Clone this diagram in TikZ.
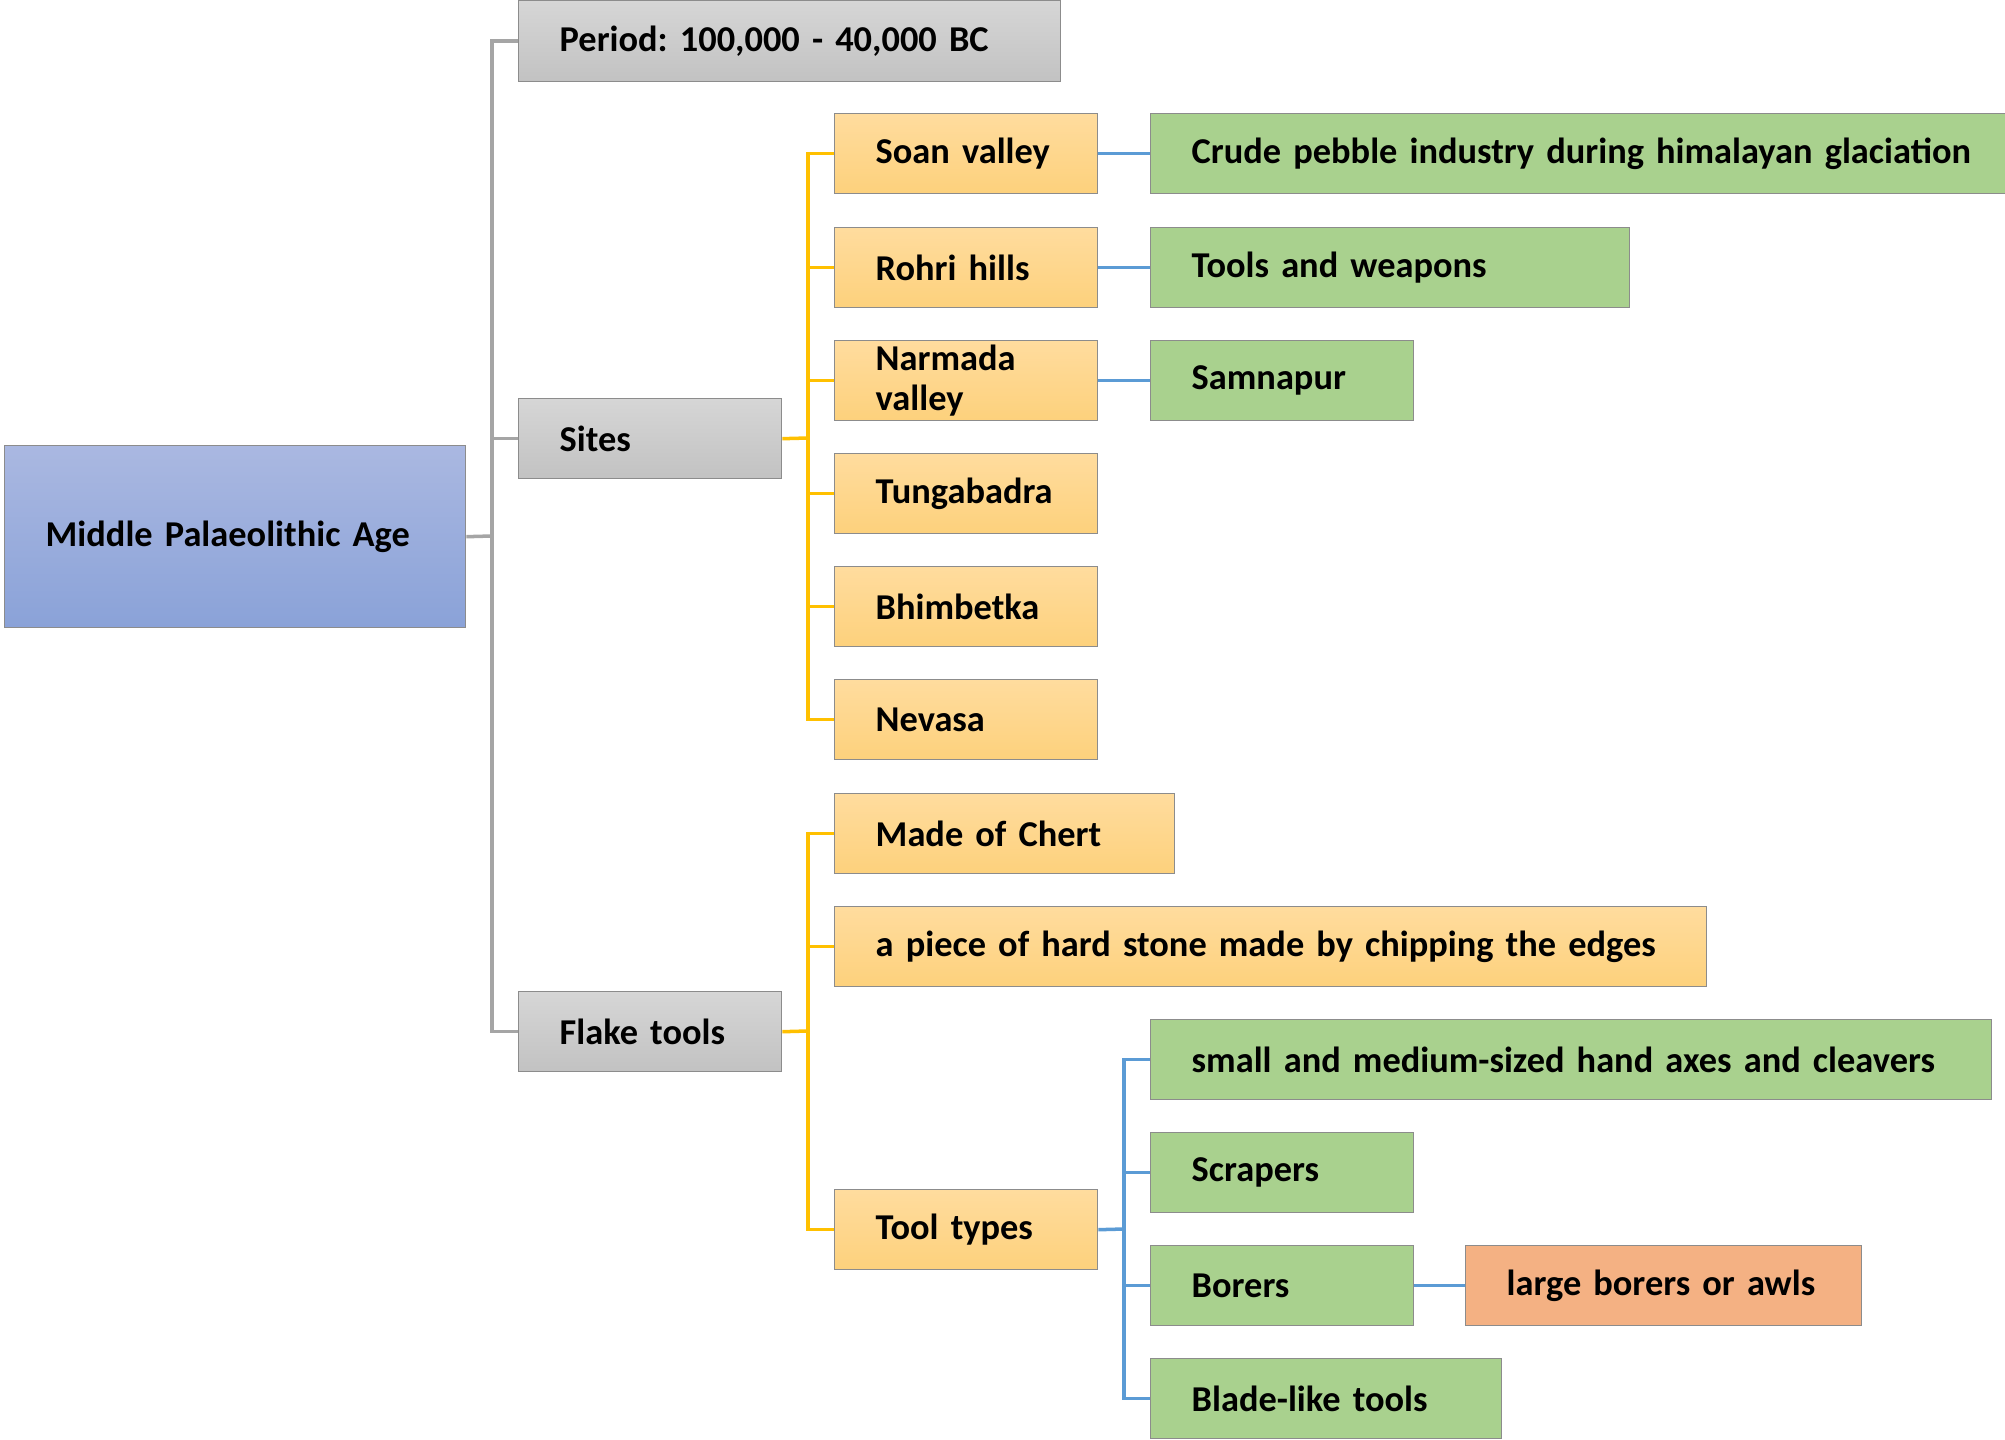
\documentclass[tikz,border=0pt]{standalone}
\usepackage{fontspec}
\setmainfont{Carlito}
\hyphenpenalty=10000
\exhyphenpenalty=10000
\frenchspacing
\definecolor{rootT}{HTML}{AAB8E1}
\definecolor{rootB}{HTML}{8AA2D8}
\definecolor{greyT}{HTML}{D6D6D6}
\definecolor{greyB}{HTML}{C2C2C2}
\definecolor{orT}{HTML}{FFDC9E}
\definecolor{orB}{HTML}{FDD17C}
\definecolor{grn}{HTML}{A9D18E}
\definecolor{salmon}{HTML}{F4B183}
\definecolor{edge}{HTML}{8C8C8C}
\definecolor{lnGrey}{HTML}{A5A5A5}
\definecolor{lnOrange}{HTML}{FFC000}
\definecolor{lnBlue}{HTML}{5B9BD5}
\begin{document}
\begin{tikzpicture}[x=0.1mm,y=-0.1mm,
  box/.style={rectangle,anchor=north west,minimum height=8mm,inner xsep=4.1mm,inner ysep=0pt,
    align=left,draw=edge,line width=0.4pt,
    font=\fontsize{10.35}{11.4}\selectfont\bfseries},
  w263/.style={minimum width=26.3mm,text width=18.1mm},
  rootbox/.style={box,top color=rootT,bottom color=rootB},
  greybox/.style={box,top color=greyT,bottom color=greyB},
  orbox/.style={box,top color=orT,bottom color=orB},
  grbox/.style={box,fill=grn},
  salbox/.style={box,fill=salmon},
  gline/.style={draw=lnGrey,line width=1pt},
  oline/.style={draw=lnOrange,line width=1pt},
  bline/.style={draw=lnBlue,line width=1pt}]
\clip (0,0) rectangle (2005,1440);

% root
\node[rootbox,minimum height=18.2mm,minimum width=46.1mm,text width=37.9mm] (root) at (4,445) {Middle Palaeolithic Age};

% first level
\node[greybox,minimum height=8.1mm,minimum width=54.2mm,text width=46mm] (period) at (518,0) {Period: 100,000 - 40,000 BC};
\node[greybox,w263] (sites) at (518,398) {Sites};
\node[greybox,w263] (flake) at (518,991) {Flake tools};

% sites
\node[orbox,w263] (soan) at (834,113) {Soan valley};
\node[orbox,w263] (rohri) at (834,227) {Rohri hills};
\node[orbox,w263] (narmada) at (834,340) {Narmada\\valley};
\node[orbox,w263] (tunga) at (834,453) {Tungabadra};
\node[orbox,w263] (bhim) at (834,566) {Bhimbetka};
\node[orbox,w263] (nevasa) at (834,679) {Nevasa};

\node[grbox,minimum width=88mm,text width=79.8mm] (crude) at (1150,113) {Crude pebble industry during himalayan glaciation};
\node[grbox,minimum width=47.9mm,text width=39.7mm] (tools) at (1150,227) {Tools and weapons};
\node[grbox,w263] (samna) at (1150,340) {Samnapur};

% flake tools
\node[orbox,minimum width=34mm,text width=25.8mm] (chert) at (834,793) {Made of Chert};
\node[orbox,minimum width=87.2mm,text width=79mm] (piece) at (834,906) {a piece of hard stone made by chipping the edges};
\node[orbox,w263] (ttypes) at (834,1189) {Tool types};

\node[grbox,minimum width=84.1mm,text width=75.9mm] (axes) at (1150,1019) {small and medium-sized hand axes and cleavers};
\node[grbox,w263] (scrap) at (1150,1132) {Scrapers};
\node[grbox,w263] (borers) at (1150,1245) {Borers};
\node[grbox,minimum width=35.1mm,text width=26.9mm] (blade) at (1150,1358) {Blade-like tools};
\node[salbox,minimum width=39.6mm,text width=31.4mm] (awls) at (1465,1245) {large borers or awls};

% trunk points
\coordinate (rt) at (492,536);
\coordinate (st) at (808,438);
\coordinate (ft) at (808,1031);
\coordinate (tt) at (1124,1229);

% root connectors
\draw[gline] (root.east) -- (rt);
\draw[gline] (rt) |- (period.west);
\draw[gline] (rt) |- (sites.west);
\draw[gline] (rt) |- (flake.west);

% sites connectors
\draw[oline] (sites.east) -- (st);
\foreach \n in {soan,rohri,narmada,tunga,bhim,nevasa} \draw[oline] (st) |- (\n.west);

% flake tools connectors
\draw[oline] (flake.east) -- (ft);
\foreach \n in {chert,piece,ttypes} \draw[oline] (ft) |- (\n.west);

% detail connectors
\draw[bline] (soan.east) -- (crude.west);
\draw[bline] (rohri.east) -- (tools.west);
\draw[bline] (narmada.east) -- (samna.west);
\draw[bline] (ttypes.east) -- (tt);
\foreach \n in {axes,scrap,borers,blade} \draw[bline] (tt) |- (\n.west);
\draw[bline] (borers.east) -- (awls.west);
\end{tikzpicture}
\end{document}
